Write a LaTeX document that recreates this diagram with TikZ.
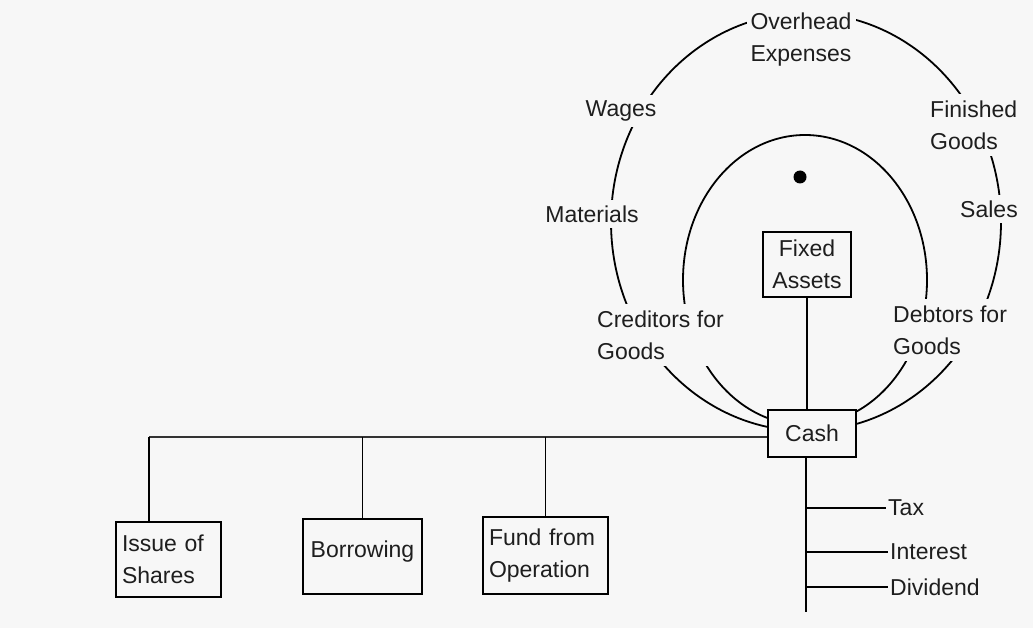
\documentclass[tikz,border=0pt]{standalone}
\usepackage{fontspec}
\setmainfont{Liberation Sans}
\definecolor{bg}{RGB}{247,247,247}
\definecolor{ink}{RGB}{30,30,30}
\begin{document}
\begin{tikzpicture}[x=1pt,y=-1pt,
  every node/.style={font=\fontsize{23}{32}\selectfont, text=ink},
  lbl/.style={fill=bg, inner xsep=4pt, inner ysep=6pt, align=center},
  lbll/.style={fill=bg, inner xsep=4pt, inner ysep=7pt, align=left},
  boxnode/.style={draw=black, line width=1.9pt, fill=bg},
  lin/.style={line width=1.9pt, draw=black},
  arcline/.style={line width=1.8pt, draw=black},
  outlbl/.style={inner sep=2pt, anchor=west}
  ]
\useasboundingbox (0,0) rectangle (1033,628);
\fill[bg] (0,0) rectangle (1033,628);

% cycles
\draw[arcline] (806,222) ellipse [x radius=195pt, y radius=209pt];
\draw[arcline] (805,280) ellipse [x radius=122pt, y radius=145pt];
\fill[black] (800,177) circle [radius=6.5pt];

% cycle labels
\node[lbl] (oh) at (801,40) {Overhead\\Expenses};
\node[lbl] (wages) at (621,111) {Wages};
\node[lbl] (mat) at (592,214) {Materials};
\node[lbll, anchor=west] (fg) at (926,125) {Finished\\Goods};
\node[lbl] (sales) at (989,209) {Sales};
\node[lbll, anchor=west] (cred) at (593,335) {Creditors for\\Goods};
\node[lbll, anchor=west] (debt) at (889,330) {Debtors for\\Goods};

% boxes
\node[boxnode, minimum width=88pt, minimum height=65pt, inner sep=0pt, align=center] (fa) at (807,264.5) {Fixed\\Assets};
\node[boxnode, minimum width=88pt, minimum height=47pt, inner sep=0pt] (cash) at (812,433.5) {Cash};
\node[boxnode, text width=93pt, inner xsep=6pt, inner ysep=0pt, minimum height=75pt, align=left] (issue) at (168.5,559.5) {Issue of\\Shares};
\node[boxnode, minimum width=119pt, text height=38pt, text depth=37pt, inner ysep=0pt] (borrow) at (362.5,556.5) {Borrowing};
\node[boxnode, text width=113pt, inner xsep=6pt, inner ysep=0pt, minimum height=77pt, align=left] (fund) at (545.5,555.5) {Fund from\\Operation};

% outflows
\node[outlbl] (tax) at (886,508) {Tax};
\node[outlbl] (interest) at (888,552) {Interest};
\node[outlbl] (dividend) at (888,587) {Dividend};

% connectors
\coordinate (hl) at (149,437);
\coordinate (cb) at (806,612);
\draw[lin] (fa.south) -- (fa.south |- cash.north);
\draw[line width=2.8pt, draw=black!80] (hl) -- (hl -| cash.west);
\draw[lin] (hl) -- (hl |- issue.north);
\draw[lin] (borrow.north |- hl) -- (borrow.north);
\draw[lin] (fund.north |- hl) -- (fund.north);
\draw[lin] (cb |- cash.south) -- (cb);
\draw[lin] (cb |- tax.west) -- (tax.west);
\draw[lin] (cb |- interest.west) -- (interest.west);
\draw[lin] (cb |- dividend.west) -- (dividend.west);
\end{tikzpicture}
\end{document}
